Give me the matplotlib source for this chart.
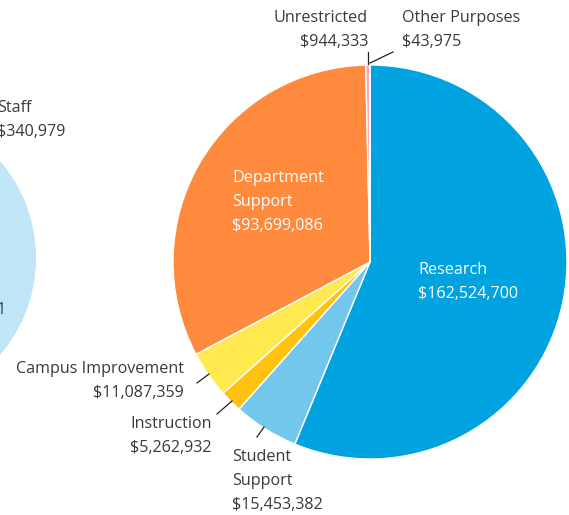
import matplotlib.pyplot as plt
from matplotlib.patches import Wedge

plt.rcParams['font.family'] = ['Open Sans', 'DejaVu Sans']

# Restricted gifts by purpose (clockwise from the top)
categories = ["Research", "Student\nSupport", "Instruction", "Campus Improvement",
              "Department\nSupport", "Unrestricted", "Other Purposes"]
amounts = [162524700, 15453382, 5262932, 11087359, 93699086, 944333, 43975]
colors = ["#00a3e0", "#73c7ec", "#ffc20e", "#ffe94f", "#ff8a3d", "#f5a3c8", "#f0e0ea"]

# neighbouring chart, only the edge of it shows
left_label = "Staff\n$340,979"
left_tail = "1"

W, H = 569, 515
CX, CY, R = 370, H - 262, 197
TEXT = "#3a3a3a"

fig = plt.figure(figsize=(W / 100, H / 100), dpi=100)
ax = fig.add_axes([0, 0, 1, 1])

# partial pie at the left edge
ax.add_patch(Wedge((-113, H - 258), 149, 0, 360, facecolor="#bfe5f6", edgecolor="none"))

wedges, _ = ax.pie(amounts, colors=colors, startangle=90, counterclock=False,
                   center=(CX, CY), radius=R,
                   wedgeprops=dict(edgecolor="white", linewidth=1.0))

ax.set_xlim(0, W)
ax.set_ylim(0, H)
ax.set_aspect("equal")
ax.axis("off")


def lbl(i):
    return f"{categories[i]}\n${amounts[i]:,}"


fs = 11.6
ls = 1.65
# labels inside the big slices
ax.text(418, H - 282, lbl(0), color="white", fontsize=fs, ha="left", va="center", linespacing=ls)
ax.text(232, H - 202, lbl(4), color="white", fontsize=fs, ha="left", va="center", linespacing=ls)

# outside labels with leader lines
ax.text(368, H - 30, lbl(5), color=TEXT, fontsize=fs, ha="right", va="center", linespacing=ls,
        multialignment="right")
ax.plot([368, 368], [H - 52, H - 64], color="#222222", lw=0.9)
ax.text(402, H - 30, lbl(6), color=TEXT, fontsize=fs, ha="left", va="center", linespacing=ls)
ax.plot([370, 393], [H - 63, H - 52], color="#222222", lw=0.9)

ax.text(184, H - 381, lbl(3), color=TEXT, fontsize=fs, ha="right", va="center", linespacing=ls,
        multialignment="right")
ax.plot([197, 209], [H - 383, H - 374], color="#222222", lw=0.9)

ax.text(212, H - 436, lbl(2), color=TEXT, fontsize=fs, ha="right", va="center", linespacing=ls,
        multialignment="right")
ax.plot([217, 232], [H - 414, H - 401], color="#222222", lw=0.9)

ax.text(232, H - 481, lbl(1), color=TEXT, fontsize=fs, ha="left", va="center", linespacing=ls)
ax.plot([257, 264], [H - 437, H - 427], color="#222222", lw=0.9)

# text belonging to the neighbouring chart
ax.text(-3, H - 120, left_label, color=TEXT, fontsize=fs, ha="left", va="center", linespacing=ls)
ax.text(6, H - 310, left_tail, color=TEXT, fontsize=fs, ha="right", va="center")

fig.savefig("out.png", dpi=100)
